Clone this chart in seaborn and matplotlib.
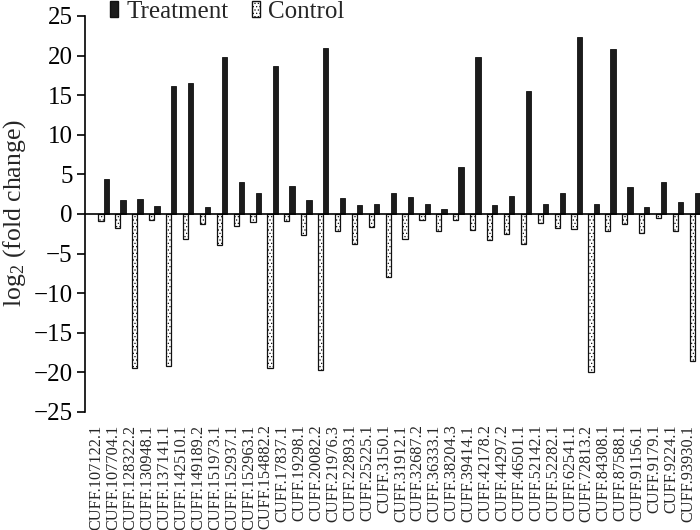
import numpy as np
import pandas as pd
import matplotlib
matplotlib.use("Agg")
import matplotlib.pyplot as plt
import matplotlib.patches as mpatches
import seaborn as sns

genes = ["CUFF.107122.1", "CUFF.107704.1", "CUFF.128322.2", "CUFF.130948.1", "CUFF.137141.1",
         "CUFF.142510.1", "CUFF.149189.2", "CUFF.151973.1", "CUFF.152937.1", "CUFF.152963.1",
         "CUFF.154882.2", "CUFF.17837.1", "CUFF.19298.1", "CUFF.20082.2", "CUFF.21976.3",
         "CUFF.22893.1", "CUFF.25225.1", "CUFF.3150.1", "CUFF.31912.1", "CUFF.32687.2",
         "CUFF.36333.1", "CUFF.38204.3", "CUFF.39414.1", "CUFF.42178.2", "CUFF.44297.2",
         "CUFF.46501.1", "CUFF.52142.1", "CUFF.52282.1", "CUFF.62541.1", "CUFF.72813.2",
         "CUFF.84308.1", "CUFF.87588.1", "CUFF.91156.1", "CUFF.9179.1", "CUFF.9224.1",
         "CUFF.93930.1"]
treatment = [4.4, 1.8, 1.9, 1.0, 16.2, 16.5, 0.9, 19.8, 4.1, 2.7,
             18.7, 3.5, 1.8, 21.0, 2.0, 1.1, 1.3, 2.6, 2.2, 1.3,
             0.6, 5.9, 19.8, 1.1, 2.3, 15.5, 1.3, 2.6, 22.4, 1.3,
             20.8, 3.4, 0.9, 4.1, 1.5, 2.7]
control = [-0.9, -1.8, -19.5, -0.7, -19.2, -3.2, -1.2, -3.9, -1.5, -1.0,
           -19.5, -0.9, -2.7, -19.7, -2.2, -3.8, -1.6, -8.0, -3.1, -0.7,
           -2.1, -0.8, -2.0, -3.3, -2.5, -3.8, -1.1, -1.8, -1.9, -19.9,
           -2.2, -1.3, -2.4, -0.5, -2.1, -18.5]
yticks = [25, 20, 15, 10, 5, 0, -5, -10, -15, -20, -25]

sns.set_style("white")
plt.rcParams["font.family"] = ["Liberation Serif", "DejaVu Serif"]
plt.rcParams["mathtext.fontset"] = "custom"
plt.rcParams["mathtext.rm"] = "Liberation Serif"
plt.rcParams["mathtext.it"] = "Liberation Serif:italic"
plt.rcParams["hatch.linewidth"] = 0.5

df = pd.DataFrame({
    "gene": genes * 2,
    "value": control + treatment,
    "group": ["Control"] * len(genes) + ["Treatment"] * len(genes),
})

fig = plt.figure(figsize=(7.0, 5.3), dpi=100)
ax = fig.add_axes([85 / 700, 118 / 530, 615 / 700, 396 / 530])

sns.barplot(data=df, x="gene", y="value", hue="group",
            hue_order=["Control", "Treatment"], order=genes,
            palette={"Control": "#f2f2f2", "Treatment": "#1c1c1c"},
            width=0.62, gap=0, ax=ax, legend=False, saturation=1)

for cont, lvl in zip(ax.containers, ["Control", "Treatment"]):
    for p in cont:
        if lvl == "Control":
            p.set_facecolor("white")
            p.set_edgecolor("#111111")
            p.set_linewidth(0.9)
            p.set_hatch(".....")
        else:
            p.set_facecolor("#1c1c1c")
            p.set_edgecolor("#111111")
            p.set_linewidth(0.6)

ax.set_ylim(-25, 25)
ax.set_xlim(-1.1, 35.3)
ax.set_yticks(yticks)
ax.set_yticklabels([str(v).replace("-", "\u2212") for v in yticks], fontsize=18)
ax.tick_params(axis="y", direction="out", length=6, width=1.2, pad=3, left=True, colors="black")
ax.set_xticks(np.arange(len(genes)) - 0.4)
ax.set_xticklabels(genes, rotation=90, fontsize=11.7)
ax.tick_params(axis="x", length=0, pad=9)
ax.set_xlabel("")
ax.set_ylabel("")
for s in ["top", "right", "bottom"]:
    ax.spines[s].set_visible(False)
ax.spines["left"].set_color("black")
ax.spines["left"].set_linewidth(1.2)
ax.axhline(0, color="black", linewidth=1.2, zorder=3)

fig.text(15 / 700, 1 - 213 / 530, r"log$_{\mathrm{2}}$ (fold change)", rotation=90,
         fontsize=18.5, ha="center", va="center")

h_t = mpatches.Patch(facecolor="#1c1c1c", edgecolor="#111111", label="Treatment")
h_c = mpatches.Patch(facecolor="white", edgecolor="#111111", hatch=".....", label="Control")
fig.legend(handles=[h_t, h_c], loc="upper left", bbox_to_anchor=(110 / 700, 0.998),
           ncol=2, frameon=False, fontsize=18, handlelength=0.3, handleheight=0.6,
           handletextpad=0.35, columnspacing=0.95, borderaxespad=0, borderpad=0)

fig.savefig("out.png", dpi=100)
